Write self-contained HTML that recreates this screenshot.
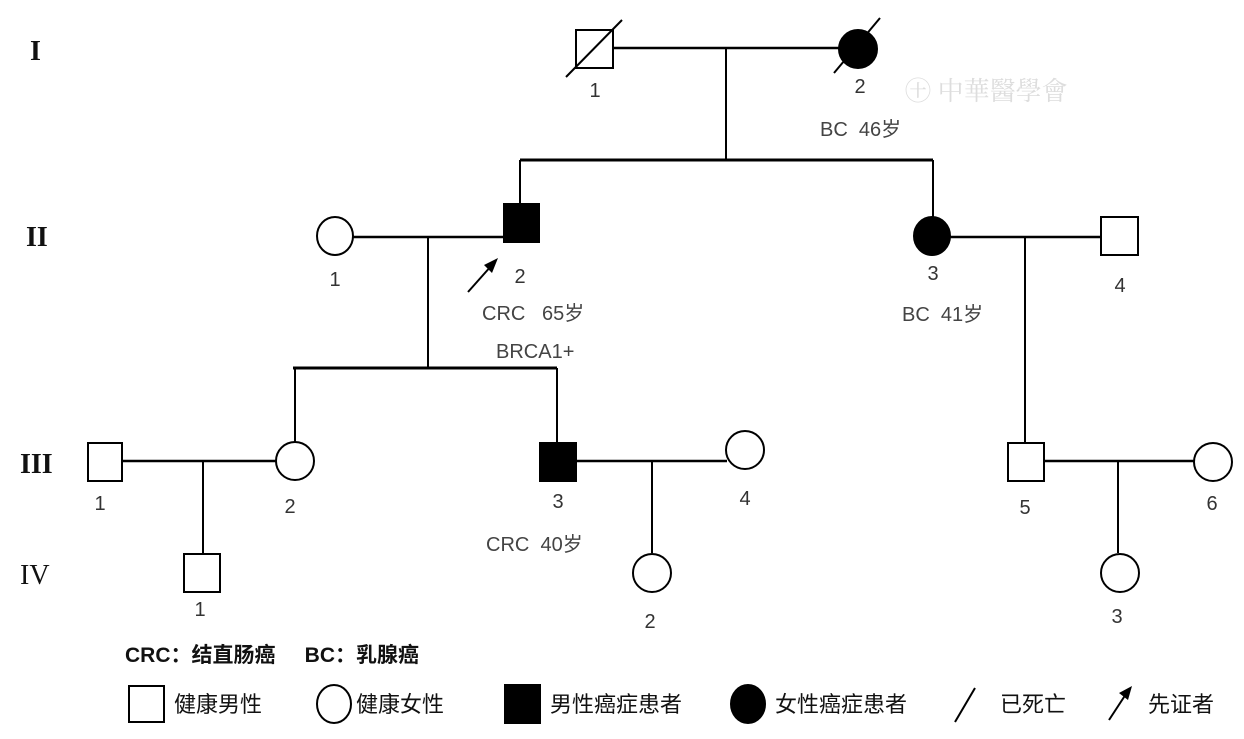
<!DOCTYPE html>
<html><head><meta charset="utf-8"><style>
html,body{margin:0;padding:0;background:#fff;width:1244px;height:739px;overflow:hidden}
svg{display:block}
.r{font-family:"Liberation Serif",serif;font-weight:bold;font-size:28px;fill:#111}
.n{font-family:"Liberation Sans","Noto Sans CJK SC",sans-serif;font-size:20px;fill:#333}
.g{font-family:"Liberation Sans","Noto Sans CJK SC",sans-serif;font-size:20px;fill:#444}
.b{font-family:"Liberation Sans","Noto Sans CJK SC",sans-serif;font-size:21px;fill:#111;font-weight:bold}
.l{font-family:"Liberation Sans","Noto Sans CJK SC",sans-serif;font-size:22px;fill:#111}
</style></head><body>
<svg width="1244" height="739" viewBox="0 0 1244 739" xmlns="http://www.w3.org/2000/svg">
<g stroke="#000" stroke-width="2" fill="none">
<!-- Gen I -->
<line x1="613" y1="48" x2="840" y2="48" stroke-width="2.5"/>
<line x1="726" y1="48" x2="726" y2="160"/>
<line x1="520" y1="160" x2="933" y2="160" stroke-width="3"/>
<line x1="520" y1="160" x2="520" y2="203"/>
<line x1="933" y1="160" x2="933" y2="218"/>
<rect x="576" y="30" width="37" height="38" fill="#fff"/>
<line x1="566" y1="77" x2="622" y2="20"/>
<ellipse cx="858" cy="49" rx="19" ry="19" fill="#000"/>
<line x1="834" y1="73" x2="880" y2="18"/>
<!-- Gen II -->
<line x1="353" y1="237" x2="503" y2="237" stroke-width="2.5"/>
<line x1="428" y1="237" x2="428" y2="368"/>
<line x1="293" y1="368" x2="557" y2="368" stroke-width="3"/>
<line x1="295" y1="368" x2="295" y2="443"/>
<line x1="557" y1="368" x2="557" y2="443"/>
<ellipse cx="335" cy="236" rx="18" ry="19" fill="#fff"/>
<rect x="504" y="204" width="35" height="38" fill="#000"/>
<line x1="950" y1="237" x2="1101" y2="237" stroke-width="2.5"/>
<line x1="1025" y1="237" x2="1025" y2="443"/>
<ellipse cx="932" cy="236" rx="18" ry="19" fill="#000"/>
<rect x="1101" y="217" width="37" height="38" fill="#fff"/>
<!-- Gen III -->
<line x1="122" y1="461" x2="277" y2="461" stroke-width="2.5"/>
<line x1="203" y1="461" x2="203" y2="553"/>
<rect x="88" y="443" width="34" height="38" fill="#fff"/>
<ellipse cx="295" cy="461" rx="19" ry="19" fill="#fff"/>
<line x1="576" y1="461" x2="727" y2="461" stroke-width="2.5"/>
<line x1="652" y1="461" x2="652" y2="553"/>
<rect x="540" y="443" width="36" height="38" fill="#000"/>
<ellipse cx="745" cy="450" rx="19" ry="19" fill="#fff"/>
<line x1="1044" y1="461" x2="1195" y2="461" stroke-width="2.5"/>
<line x1="1118" y1="461" x2="1118" y2="553"/>
<rect x="1008" y="443" width="36" height="38" fill="#fff"/>
<ellipse cx="1213" cy="462" rx="19" ry="19" fill="#fff"/>
<!-- Gen IV -->
<rect x="184" y="554" width="36" height="38" fill="#fff"/>
<ellipse cx="652" cy="573" rx="19" ry="19" fill="#fff"/>
<ellipse cx="1120" cy="573" rx="19" ry="19" fill="#fff"/>
<!-- proband arrow -->
<line x1="468" y1="292" x2="492" y2="265"/>
</g>
<polygon points="498,258 484,265 492,273" fill="#000"/>
<!-- roman -->
<text class="r" x="30" y="60">I</text>
<text class="r" x="26" y="246">II</text>
<text class="r" x="20" y="473">III</text>
<text class="r" x="20" y="584" style="font-weight:normal">IV</text>
<!-- numbers -->
<g class="n" text-anchor="middle">
<text x="595" y="97">1</text><text x="860" y="93">2</text>
<text x="335" y="286">1</text><text x="520" y="283">2</text><text x="933" y="280">3</text><text x="1120" y="292">4</text>
<text x="100" y="510">1</text><text x="290" y="513">2</text><text x="558" y="508">3</text><text x="745" y="505">4</text><text x="1025" y="514">5</text><text x="1212" y="510">6</text>
<text x="200" y="616">1</text><text x="650" y="628">2</text><text x="1117" y="623">3</text>
</g>
<g class="g">
<text x="820" y="136">BC&#160; 46岁</text>
<text x="482" y="320">CRC&#160;&#160; 65岁</text>
<text x="496" y="358">BRCA1+</text>
<text x="902" y="321">BC&#160; 41岁</text>
<text x="486" y="551">CRC&#160; 40岁</text>
</g>
<text x="905" y="100" style="font-family:'Noto Serif CJK SC',serif;font-size:26px;fill:#ddd">㊉ 中華醫學會</text>
<!-- legend -->
<text class="b" x="125" y="662">CRC：结直肠癌&#160;&#160;&#160;&#160;&#160;BC：乳腺癌</text>
<g stroke="#000" stroke-width="2" fill="none">
<rect x="129" y="686" width="35" height="36" fill="#fff"/>
<ellipse cx="334" cy="704" rx="17" ry="19"/>
<rect x="505" y="685" width="35" height="38" fill="#000"/>
<ellipse cx="748" cy="704" rx="17" ry="19" fill="#000"/>
<line x1="955" y1="722" x2="975" y2="688"/>
<line x1="1109" y1="720" x2="1126" y2="694"/>
</g>
<polygon points="1132,686 1119,693 1128,700" fill="#000"/>
<g class="l">
<text x="174" y="712">健康男性</text>
<text x="356" y="712">健康女性</text>
<text x="550" y="712">男性癌症患者</text>
<text x="775" y="712">女性癌症患者</text>
<text x="1000" y="712">已死亡</text>
<text x="1148" y="712">先证者</text>
</g>
</svg>
</body></html>
